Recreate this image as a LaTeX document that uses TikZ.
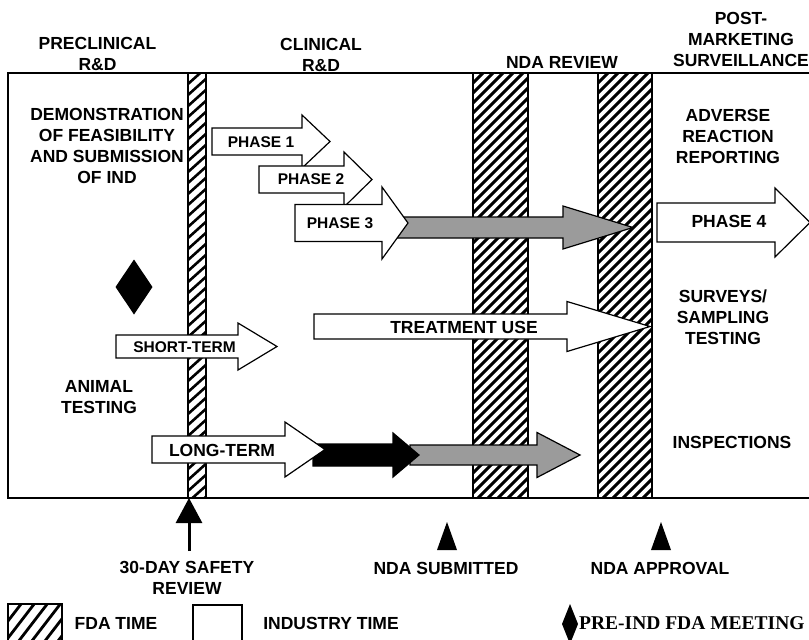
\documentclass[tikz,border=0pt]{standalone}
\usepackage{fontspec}
\setmainfont{Liberation Sans}
\newfontfamily\serifbold{Liberation Serif}
\usetikzlibrary{arrows.meta}
\definecolor{arrowgray}{RGB}{155,155,155}
\tikzset{
  lbl/.style={font=\bfseries\fontsize{17.5}{21}\selectfont, inner sep=0pt, align=center},
  sml/.style={font=\bfseries\fontsize{15.5}{19}\selectfont, inner sep=0pt},
  frameline/.style={line width=1.4pt},
  barline/.style={draw, line width=1.3pt, inner sep=0pt},
  hatchline/.style={line width=2.8pt, line cap=butt},
  arrowline/.style={line width=1.2pt, line join=miter},
}
% hatched rectangle: x0 y0 x1 y1 spacing slope linewidth
\newcommand\hatchrect[7]{%
  \begin{scope}
    \clip (#1,#2) rectangle (#3,#4);
    \foreach \k in {0,...,75}{
      \draw[hatchline, line width=#7] (#1,{#2+\k*#5}) -- (#3,{#2+\k*#5-(#3-#1)*#6});
    }
  \end{scope}}
% block arrow: fill, x1, xbase, xtip, yc, half body, half head
\newcommand\barw[7]{%
  \filldraw[arrowline, fill=#1] (#2,{#5-#6}) -- (#3,{#5-#6}) -- (#3,{#5-#7}) -- (#4,#5)
    -- (#3,{#5+#7}) -- (#3,{#5+#6}) -- (#2,{#5+#6}) -- cycle;}
\begin{document}
\begin{tikzpicture}[x=1pt,y=-1pt]
\clip (0,0) rectangle (809,640);
\fill[white] (0,0) rectangle (809,640);

% frame
\draw[frameline] (812,73) -- (8,73) -- (8,498) -- (812,498);

% FDA time bars
\hatchrect{188}{73}{206}{498}{11}{0.9}{2.6pt}
\hatchrect{473}{73}{528}{498}{10}{1.0}{2.9pt}
\hatchrect{598}{73}{652}{498}{10}{1.0}{2.9pt}
\node[barline, minimum width=18pt, minimum height=425pt] (bar1) at (197,285.5) {};
\node[barline, minimum width=55pt, minimum height=425pt] (bar2) at (500.5,285.5) {};
\node[barline, minimum width=54pt, minimum height=425pt] (bar3) at (625,285.5) {};

% clinical phases
\barw{arrowgray}{397}{563}{633}{227.5}{10.5}{21.5}
\barw{white}{212}{302}{330}{141.5}{13.5}{26.5}
\barw{white}{259}{344}{372}{179.5}{13.5}{27.5}
\barw{white}{295}{382}{408}{223}{18.5}{36}
\barw{white}{657}{775}{810}{222.5}{19.5}{34.5}

% short-term and treatment use
\barw{white}{116}{238}{277}{346.5}{11.5}{23.5}
\barw{white}{314}{567}{650}{326.5}{12.5}{25}

% long-term
\barw{arrowgray}{410}{537}{580}{455}{10}{22.5}
\barw{black}{313}{393}{419}{455}{11}{22}
\barw{white}{152}{285}{325}{449.5}{13.5}{27.5}

% pre-IND meeting diamond
\fill (134,259.5) -- (152.5,287) -- (134,314.5) -- (115.5,287) -- cycle;

% arrow labels
\node[sml] (p1) at (261,142) {PHASE 1};
\node[sml] (p2) at (311,179.5) {PHASE 2};
\node[sml] (p3) at (340,223) {PHASE 3};
\node[lbl] (p4) at (729,221) {PHASE 4};
\node[sml] (shortterm) at (184.5,347) {SHORT-TERM};
\node[lbl] (treat) at (464,327) {TREATMENT USE};
\node[lbl] (longterm) at (222,450) {LONG-TERM};

% headers
\node[lbl] (preclin) at (97.5,54) {PRECLINICAL\\R\&D};
\node[lbl] (clin) at (321,55) {CLINICAL\\R\&D};
\node[lbl] (ndarev) at (562,62) {NDA REVIEW};
\node[lbl] (post) at (741,39.5) {POST-\\MARKETING\\SURVEILLANCE};

% body texts
\node[lbl] (demo) at (107,146) {DEMONSTRATION\\OF FEASIBILITY\\AND SUBMISSION\\OF IND};
\node[lbl] (animal) at (99,397) {ANIMAL\\TESTING};
\node[lbl] (adverse) at (728,136) {ADVERSE\\REACTION\\REPORTING};
\node[lbl] (surveys) at (723,317.5) {SURVEYS/\\SAMPLING\\TESTING};
\node[lbl] (inspect) at (732,442) {INSPECTIONS};

% bottom milestones
\node[lbl] (safety) at (187,577.5) {30-DAY SAFETY\\REVIEW};
\coordinate (safetytail) at (189,551);
\coordinate (safetytip) at (189,498);
\draw[line width=3pt, -{Triangle[width=26pt,length=25pt]}] (safetytail) -- (safetytip);
\node[lbl] (ndasub) at (446,568) {NDA SUBMITTED};
\node[lbl] (ndaapp) at (660,568) {NDA APPROVAL};
\fill (437,550) -- (447,522) -- (457,550) -- cycle;
\fill (651,550) -- (661,522) -- (671,550) -- cycle;

% legend
\hatchrect{8}{604}{62}{660}{17}{1.3}{2.8pt}
\draw[line width=1.3pt] (8,650) -- (8,604) -- (62,604) -- (62,650);
\node[lbl] (fdatime) at (116,623) {FDA TIME};
\draw[line width=1.2pt] (193,650) -- (193,605) -- (242,605) -- (242,650);
\node[lbl] (indtime) at (331,623) {INDUSTRY TIME};
\fill (570,604) -- (578,624) -- (570,644) -- (562,624) -- cycle;
\node[font=\serifbold\bfseries\fontsize{19.5}{22}\selectfont, inner sep=0pt, anchor=west] (preind) at (579,623) {PRE-IND FDA MEETING};
\end{tikzpicture}
\end{document}
